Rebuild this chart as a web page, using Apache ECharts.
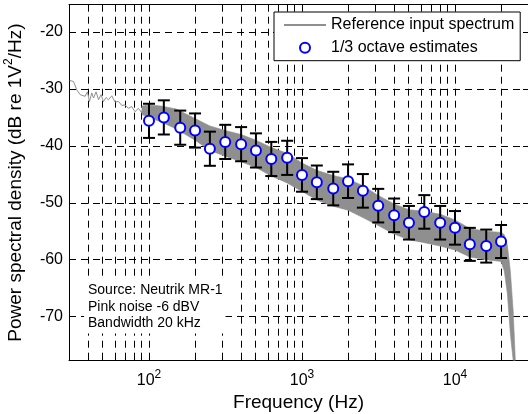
<!DOCTYPE html>
<html><head><meta charset="utf-8">
<script src="https://cdn.jsdelivr.net/npm/echarts@6/dist/echarts.min.js"></script>
<style>html,body{margin:0;padding:0;background:#fff}#c{width:528px;height:414px}</style>
</head><body><div id="c"></div>
<script>
// ---- data ----
const lineFreq = [30.3,32.1,33.8,35.5,38.2,39.6,40.8,42.3,43.4,45.1,46.8,48.6,50.4,52.4,54.3,57.1,60.0,63.2,66.4,69.7,73.4,77.1,81.0,85.3,89.6];
const lineDb   = [-28.5,-28.7,-30.2,-31.0,-31.3,-30.5,-32.2,-30.7,-31.6,-30.5,-31.9,-31.0,-32.2,-31.5,-31.9,-31.2,-32.3,-32.2,-32.9,-32.8,-33.4,-33.1,-34.0,-33.4,-34.2];
const bandFreq  = [90,100,120,150,200,250,315,400,500,630,800,1000,1250,1600,2000,2500,3150,4000,5000,6300,8000,10000,12500,16000,20000,21000,22000,23000,24000,24800];
const bandUpper = [-33.0,-32.8,-33.0,-33.5,-35.2,-36.5,-37.3,-38.0,-39.0,-40.3,-41.3,-43.0,-44.3,-45.2,-45.8,-47.0,-48.7,-50.2,-51.2,-51.5,-52.0,-53.0,-54.5,-55.0,-55.2,-55.6,-57.5,-62.0,-69.0,-77.7];
const bandLower = [-34.5,-35.0,-35.8,-37.0,-39.0,-40.8,-41.8,-42.8,-43.8,-45.3,-46.5,-48.0,-49.5,-50.6,-51.3,-52.6,-54.0,-55.5,-56.5,-57.0,-57.6,-58.3,-59.5,-60.0,-60.3,-62.0,-66.0,-73.0,-77.7,-77.7];
const octFreq = [100,125,160,200,250,315,400,500,630,800,1000,1250,1600,2000,2500,3150,4000,5000,6300,8000,10000,12500,16000,20000];
const octDb   = [-35.6,-35.0,-36.8,-37.3,-40.5,-39.3,-39.7,-40.8,-42.3,-42.1,-45.1,-46.4,-47.5,-46.2,-47.9,-50.5,-52.2,-53.5,-51.6,-53.5,-54.4,-57.3,-57.6,-56.8];
const octErr  = [3.0,3.0,3.0,3.0,3.0,3.0,3.0,3.0,3.0,3.0,2.95,2.95,2.95,2.95,2.95,2.95,2.95,2.95,2.95,2.95,2.95,2.9,2.9,2.9];
const minorFreqs = [40,50,60,70,80,90,200,300,400,500,600,700,800,900,2000,3000,4000,5000,6000,7000,8000,9000,20000];
const xMin = 30, xMax = 30000, yMin = -77.7, yMax = -15.2;
const notes = ['Source: Neutrik MR-1','Pink noise -6 dBV','Bandwidth 20 kHz'];

// ---- chart ----
const F = 'Liberation Sans, Arial, Helvetica, sans-serif';
const DASH = [7,5];
const GRAY = '#8f8f8f';
const NONE = 'rgba(0,0,0,0)';
const chart = echarts.init(document.getElementById('c'), null, {renderer:'canvas'});
const px = v => Math.round(v - 0.5) + 0.5;
const isPow10 = v => { const l = Math.log10(v); return Math.abs(l - Math.round(l)) < 1e-6; };

chart.setOption({
  animation:false,
  backgroundColor:'#fff',
  textStyle:{fontFamily:F},
  grid:{left:69, top:4.7, right:0, bottom:53.5, containLabel:false, outerBoundsMode:'none'},
  legend:{
    data:[
      {name:'Reference input spectrum', itemStyle:{color:NONE, borderColor:NONE, borderWidth:0}},
      {name:'1/3 octave estimates'}
    ],
    orient:'vertical', left:274, top:12, itemWidth:42, itemHeight:10, itemGap:6.7,
    padding:[5,6,5,9], backgroundColor:'#fff', borderColor:'#000', borderWidth:1, borderRadius:0,
    selectedMode:false, textStyle:{fontSize:16, color:'#000', fontFamily:F}
  },
  xAxis:[{
    type:'log', logBase:10, min:xMin, max:xMax,
    axisLine:{show:true, onZero:false, lineStyle:{color:'#000', width:1}},
    axisTick:{show:true, inside:true, length:5, lineStyle:{color:'#000'}},
    axisLabel:{show:true, margin:8, color:'#000',
      formatter: v => isPow10(v) ? '{b|10}{s|' + Math.round(Math.log10(v)) + '}' : '',
      rich:{b:{fontSize:16, lineHeight:24, fontFamily:F, color:'#000'}, s:{fontSize:12, verticalAlign:'top', fontFamily:F, color:'#000'}}},
    splitLine:{show:true, lineStyle:{color:'#000', width:1, type:DASH}},
    name:'Frequency (Hz)', nameLocation:'middle', nameGap:31,
    nameTextStyle:{fontSize:19, color:'#000', fontFamily:F}
  },{
    type:'log', logBase:10, min:xMin, max:xMax, position:'top',
    axisLine:{show:true, onZero:false, lineStyle:{color:'#000', width:1}},
    axisTick:{show:true, inside:true, length:5, lineStyle:{color:'#000'}},
    axisLabel:{show:false}, splitLine:{show:false}
  }],
  yAxis:[{
    type:'value', min:yMin, max:yMax, splitNumber:6,
    axisLine:{show:true, onZero:false, lineStyle:{color:'#000', width:1}},
    axisTick:{show:true, inside:true, length:5, lineStyle:{color:'#000'}},
    axisLabel:{show:true, margin:6, fontSize:16, color:'#000', fontFamily:F,
      formatter: v => Math.abs(v % 10) < 1e-6 ? String(Math.round(v)) : ''},
    splitLine:{show:true, lineStyle:{color:'#000', width:1, type:DASH}},
    name:'Power spectral density (dB re 1V{sup|2}/Hz)', nameLocation:'middle', nameGap:32,
    nameTextStyle:{fontSize:19, lineHeight:26, color:'#000', fontFamily:F,
      rich:{sup:{fontSize:12, verticalAlign:'top', color:'#000', fontFamily:F}}}
  },{
    type:'value', min:yMin, max:yMax, splitNumber:6, position:'right',
    axisLine:{show:true, onZero:false, lineStyle:{color:'#000', width:1}},
    axisTick:{show:true, inside:true, length:5, lineStyle:{color:'#000'}},
    axisLabel:{show:false}, splitLine:{show:false}
  }],
  graphic:[{
    type:'text', left:84, top:279, z:50,
    style:{text:notes.join('\n'), fontSize:14, lineHeight:16.5, fill:'#000', fontFamily:F,
      backgroundColor:'#fff', padding:[3,3,2,4]}
  }],
  series:[
    { // minor x grid lines and ticks
      type:'custom', name:'minorGrid', silent:true, z:1,
      data: minorFreqs.map(f => [f, yMin]), encode:{x:0, y:1},
      renderItem:(params, api) => {
        const f = api.value(0);
        const t = api.coord([f, yMax]), b = api.coord([f, yMin]);
        const x = px(t[0]);
        return {type:'group', children:[
          {type:'line', shape:{x1:x, y1:t[1], x2:x, y2:b[1]}, style:{stroke:'#000', lineWidth:1, lineDash:DASH}},
          {type:'line', shape:{x1:x, y1:b[1], x2:x, y2:b[1]-3.5}, style:{stroke:'#000', lineWidth:1}},
          {type:'line', shape:{x1:x, y1:t[1], x2:x, y2:t[1]+3.5}, style:{stroke:'#000', lineWidth:1}}
        ]};
      }
    },
    { // dense part of spectrum drawn as its envelope
      type:'custom', name:'spectrumBand', silent:true, z:2, clip:true,
      data: bandFreq.map((f,i) => [f, bandUpper[i], bandLower[i]]), encode:{x:0, y:[1,2]},
      renderItem:(params, api) => {
        if (params.dataIndex !== 0) return null;
        const pts = [];
        for (let i = 0; i < bandFreq.length; i++) pts.push(api.coord([bandFreq[i], bandUpper[i]]));
        for (let i = bandFreq.length - 1; i >= 0; i--) pts.push(api.coord([bandFreq[i], bandLower[i]]));
        return {type:'polygon', shape:{points:pts}, style:{fill:GRAY, stroke:GRAY, lineWidth:0.6}};
      }
    },
    {
      type:'line', name:'Reference input spectrum', z:3, symbol:'none', silent:true,
      data: lineFreq.map((f,i) => [f, lineDb[i]]).concat([[bandFreq[0], (bandUpper[0]+bandLower[0])/2]]),
      lineStyle:{color:GRAY, width:1}, itemStyle:{color:NONE, borderColor:NONE, borderWidth:0}
    },
    { // error bars
      type:'custom', name:'errorBars', silent:true, z:4,
      data: octFreq.map((f,i) => [f, octDb[i], octErr[i]]), encode:{x:0, y:1},
      renderItem:(params, api) => {
        const f = api.value(0), v = api.value(1), e = api.value(2);
        const hi = api.coord([f, v + e]), lo = api.coord([f, v - e]);
        const x = hi[0], hw = 6;
        const st = {stroke:'#000', lineWidth:2};
        return {type:'group', children:[
          {type:'line', shape:{x1:x, y1:hi[1], x2:x, y2:lo[1]}, style:st},
          {type:'line', shape:{x1:x-hw, y1:hi[1], x2:x+hw, y2:hi[1]}, style:st},
          {type:'line', shape:{x1:x-hw, y1:lo[1], x2:x+hw, y2:lo[1]}, style:st}
        ]};
      }
    },
    {
      type:'scatter', name:'1/3 octave estimates', z:5, silent:true,
      data: octFreq.map((f,i) => [f, octDb[i]]),
      symbol:'circle', symbolSize:10,
      itemStyle:{color:'#ffffff', borderColor:'#0000ff', borderWidth:2, opacity:1}
    }
  ]
});
</script></body></html>
